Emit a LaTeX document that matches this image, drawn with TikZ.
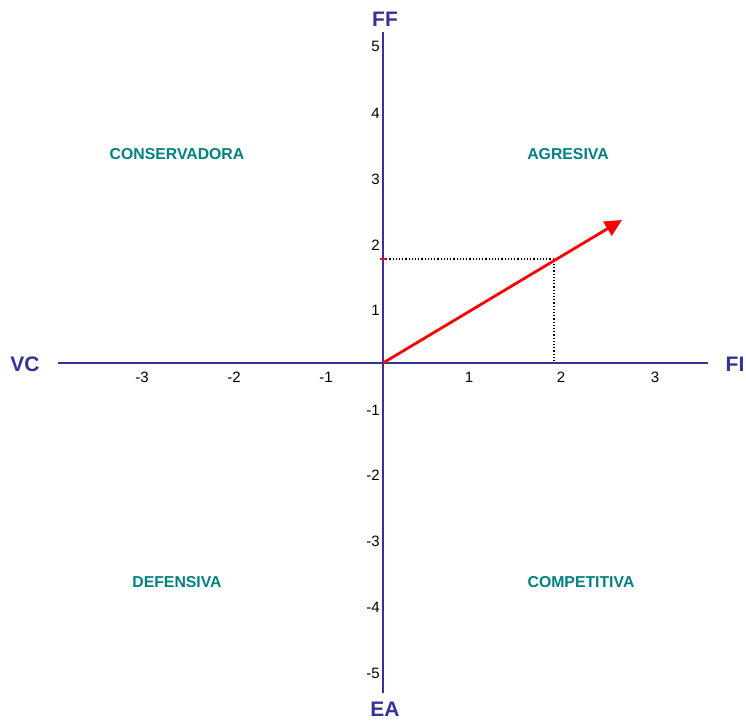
\documentclass[tikz,border=0pt]{standalone}
\usepackage{fontspec}
\setmainfont{Liberation Sans}
\usetikzlibrary{arrows.meta}
\definecolor{axisblue}{RGB}{51,51,153}
\definecolor{quadteal}{RGB}{0,128,128}
\begin{document}
\begin{tikzpicture}[x=1pt,y=-1pt,
  axisline/.style={draw=axisblue,line width=2pt},
  axislabel/.style={font=\fontsize{21}{24}\selectfont\bfseries,text=axisblue,inner sep=0pt},
  ticklbl/.style={font=\fontsize{15}{17}\selectfont,text=black,inner sep=0pt},
  quadlbl/.style={font=\fontsize{15.8}{18}\selectfont\bfseries,text=quadteal,inner sep=0pt},
  guide/.style={draw=black,dotted,line width=1.2pt},
  vec/.style={draw=red,line width=2.8pt,-{Triangle[length=17pt,width=16pt]}}]
\useasboundingbox (0,0) rectangle (746,721);
% axes
\coordinate (xl) at (58,363);
\coordinate (xr) at (708,363);
\coordinate (yt) at (383,32);
\coordinate (yb) at (383,693);
\coordinate (o) at (383,363);
\draw[axisline] (xl) -- (xr);
\draw[axisline] (yt) -- (yb);
\node[axislabel] (vc) at (25,364) {VC};
\node[axislabel] (fi) at (735,364) {FI};
\node[axislabel] (ff) at (385,19) {FF};
\node[axislabel] (ea) at (385,709) {EA};
% x tick labels
\node[ticklbl] (xm3) at (142,377) {-3};
\node[ticklbl] (xm2) at (234,377) {-2};
\node[ticklbl] (xm1) at (326,377) {-1};
\node[ticklbl] (x1) at (469,377) {1};
\node[ticklbl] (x2) at (561,377) {2};
\node[ticklbl] (x3) at (655,377) {3};
% y tick labels
\node[ticklbl,anchor=east] (y5) at (380,46) {5};
\node[ticklbl,anchor=east] (y4) at (380,113) {4};
\node[ticklbl,anchor=east] (y3) at (380,179) {3};
\node[ticklbl,anchor=east] (y2) at (380,245) {2};
\node[ticklbl,anchor=east] (y1) at (380,310) {1};
\node[ticklbl,anchor=east] (ym1) at (380,410) {-1};
\node[ticklbl,anchor=east] (ym2) at (380,475) {-2};
\node[ticklbl,anchor=east] (ym3) at (380,541) {-3};
\node[ticklbl,anchor=east] (ym4) at (380,607) {-4};
\node[ticklbl,anchor=east] (ym5) at (380,673) {-5};
% quadrant labels
\node[quadlbl] (cons) at (177,154) {CONSERVADORA};
\node[quadlbl] (agr) at (568,154) {AGRESIVA};
\node[quadlbl] (def) at (177,582) {DEFENSIVA};
\node[quadlbl] (comp) at (581,582) {COMPETITIVA};
% guide lines
\coordinate (gy) at (383,259);
\coordinate (p) at (554,259);
\coordinate (gx) at (554,363);
\draw[guide] (gy) -- (p) -- (gx);
\draw[red,line width=1.5pt] (380,259) -- (386,259);
% vector
\coordinate (tip) at (622,220);
\draw[vec] (o) -- (tip);
\end{tikzpicture}
\end{document}
